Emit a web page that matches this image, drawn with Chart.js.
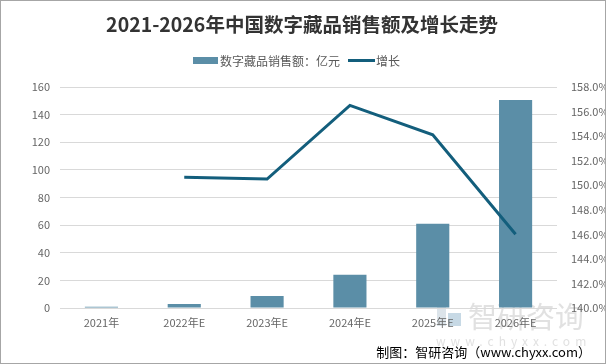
<!DOCTYPE html>
<html>
<head>
<meta charset="utf-8">
<script src="https://cdn.jsdelivr.net/npm/chart.js@4.4.0/dist/chart.umd.min.js"></script>
<style>
html,body{margin:0;padding:0;background:#fff;}
#wrap{width:606px;height:364px;position:relative;}
canvas{display:block;}
</style>
</head>
<body>
<div id="wrap"><canvas id="c" width="606" height="364"></canvas></div>
<script>
const categories = ['2021年', '2022年E', '2023年E', '2024年E', '2025年E', '2026年E'];
const salesValues = [0.9, 2.9, 8.7, 24.0, 61.0, 150.6];
const growthValues = [null, 150.65, 150.5, 156.5, 154.1, 146.0];
const salesLabel = '数字藏品销售额：亿元';
const growthLabel = '增长';
const titleText = '2021-2026年中国数字藏品销售额及增长走势';
const sourceText = '制图：智研咨询（www.chyxx.com）';

const FONT = '"Noto Sans CJK SC", "Noto Sans", sans-serif';
const BAR_COLOR = '#5b8ea7';
const LINE_COLOR = '#135e7c';
const TICK_COLOR = '#666666';

const decor = {
  id: 'decor',
  beforeDraw(chart) {
    const ctx = chart.ctx;
    ctx.save();
    ctx.fillStyle = '#ffffff';
    ctx.fillRect(0, 0, chart.width, chart.height);
    // watermark
    ctx.globalAlpha = 0.5;
    ctx.fillStyle = '#b9c9d6';
    ctx.fillRect(437, 305, 9, 21);
    ctx.fillStyle = '#8fb3cc';
    ctx.fillRect(448, 313, 13, 13);
    ctx.fillStyle = '#c4c4c4';
    ctx.font = '29px ' + FONT;
    ctx.textBaseline = 'middle';
    ctx.textAlign = 'left';
    ctx.fillText('智研咨询', 468, 317);
    ctx.font = '12px ' + FONT;
    ctx.letterSpacing = '5px';
    ctx.fillText('www.chyxx.com', 436, 341);
    ctx.letterSpacing = '0px';
    ctx.restore();
  },
  afterDraw(chart) {
    const ctx = chart.ctx;
    ctx.save();
    // title
    ctx.fillStyle = '#333333';
    ctx.font = 'bold 19.5px ' + FONT;
    ctx.textAlign = 'center';
    ctx.textBaseline = 'middle';
    ctx.fillText(titleText, 302, 25);
    // legend
    const ds = chart.data.datasets;
    const bar = ds.find(d => d.type !== 'line');
    const line = ds.find(d => d.type === 'line');
    ctx.font = '12px ' + FONT;
    ctx.textAlign = 'left';
    ctx.fillStyle = bar.backgroundColor;
    ctx.fillRect(193, 57, 25, 7);
    ctx.fillStyle = '#595959';
    ctx.fillText(bar.label, 220, 61);
    ctx.strokeStyle = line.borderColor;
    ctx.lineWidth = 3;
    ctx.beginPath();
    ctx.moveTo(348, 60.5);
    ctx.lineTo(375, 60.5);
    ctx.stroke();
    ctx.fillStyle = '#595959';
    ctx.fillText(line.label, 376, 61);
    // source
    ctx.fillStyle = '#000000';
    ctx.font = '13px ' + FONT;
    ctx.textAlign = 'right';
    ctx.fillText(sourceText, 591, 352);
    // border
    ctx.strokeStyle = '#a6a6a6';
    ctx.lineWidth = 1;
    ctx.strokeRect(0.5, 0.5, chart.width - 1, chart.height - 1);
    ctx.restore();
  }
};

new Chart(document.getElementById('c'), {
  type: 'bar',
  data: {
    labels: categories,
    datasets: [
      {
        type: 'line',
        label: growthLabel,
        data: growthValues,
        yAxisID: 'y1',
        borderColor: LINE_COLOR,
        backgroundColor: LINE_COLOR,
        borderWidth: 3,
        pointRadius: 0,
        tension: 0,
        order: 0
      },
      {
        type: 'bar',
        label: salesLabel,
        data: salesValues,
        yAxisID: 'y',
        backgroundColor: BAR_COLOR,
        categoryPercentage: 1,
        barPercentage: 0.4,
        order: 1
      }
    ]
  },
  options: {
    responsive: false,
    animation: false,
    layout: { padding: { top: 87, bottom: 28, left: 0, right: 0 } },
    plugins: { legend: { display: false }, title: { display: false }, tooltip: { enabled: false } },
    scales: {
      x: {
        grid: { display: false, drawTicks: false },
        border: { display: false },
        ticks: { color: TICK_COLOR, font: { family: FONT, size: 11 }, padding: 8, maxRotation: 0 },
        afterFit(s) { s.height = 28; }
      },
      y: {
        position: 'left',
        min: 0, max: 160,
        ticks: { stepSize: 20, color: TICK_COLOR, font: { family: FONT, size: 11 }, padding: 10 },
        grid: { color: '#d9d9d9', drawTicks: false },
        border: { display: false },
        afterFit(s) { s.width = 60; }
      },
      y1: {
        position: 'right',
        min: 140, max: 158,
        ticks: { stepSize: 2, color: TICK_COLOR, font: { family: FONT, size: 11 }, padding: 14,
          callback: v => v.toFixed(1) + '%' },
        grid: { display: false, drawTicks: false },
        border: { display: false },
        afterFit(s) { s.width = 49; }
      }
    }
  },
  plugins: [decor]
});
</script>
</body>
</html>
